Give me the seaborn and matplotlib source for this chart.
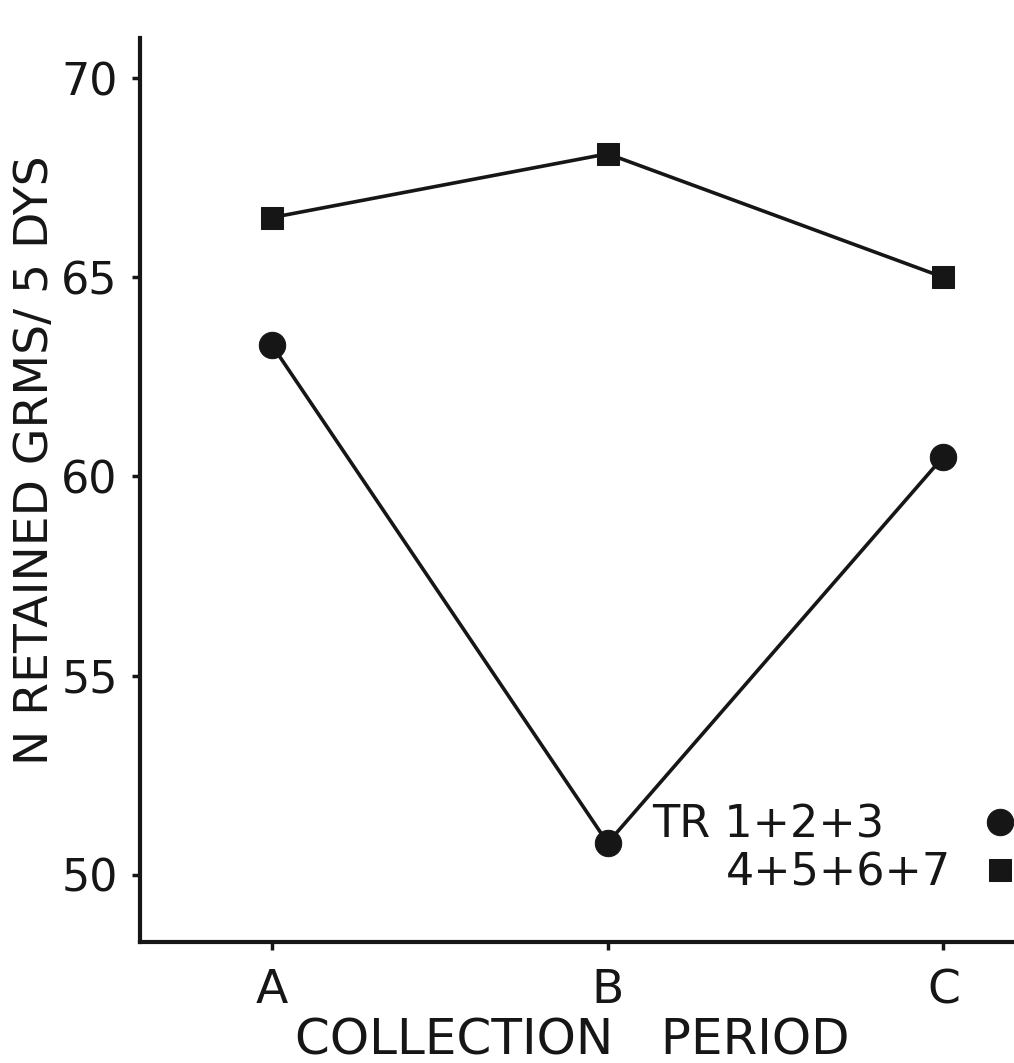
import matplotlib
matplotlib.use("Agg")
import matplotlib.pyplot as plt
import seaborn as sns
import pandas as pd

# Collection periods and the nitrogen retained for each treatment group
periods = ["A", "B", "C"]
group_circle = "TR 1+2+3"
group_square = "4+5+6+7"
values_circle = [63.3, 50.8, 60.5]
values_square = [66.5, 68.1, 65.0]
y_ticks = [50, 55, 60, 65, 70]

df = pd.DataFrame({
    "period": periods * 2,
    "value": values_circle + values_square,
    "group": [group_circle] * 3 + [group_square] * 3,
})

sns.set_theme(style="ticks")
plt.rcParams["font.family"] = ["DejaVu Sans"]

ink = "#161616"
fig = plt.figure(figsize=(10.14, 10.63), dpi=100)
ax = fig.add_axes([0.138, 0.114, 0.862, 0.850])

sns.lineplot(data=df[df["group"] == group_circle], x="period", y="value",
             marker="o", markersize=19, color=ink, linewidth=2.6,
             markeredgecolor=ink, ax=ax, legend=False)
sns.lineplot(data=df[df["group"] == group_square], x="period", y="value",
             marker="s", markersize=16.5, color=ink, linewidth=2.6,
             markeredgecolor=ink, ax=ax, legend=False)

ax.set_xlim(-0.393, 2.21)
ax.set_ylim(48.32, 71.0)
ax.set_yticks(y_ticks)
ax.set_yticklabels([str(v) for v in y_ticks])

for side in ("top", "right"):
    ax.spines[side].set_visible(False)
for side in ("left", "bottom"):
    ax.spines[side].set_linewidth(3.0)
    ax.spines[side].set_color(ink)

ax.tick_params(axis="both", direction="out", length=6, width=2.5, color=ink)
ax.tick_params(axis="y", labelsize=32, pad=10, labelcolor=ink)
ax.tick_params(axis="x", labelsize=34, pad=13, labelcolor=ink)

ax.set_xlabel("COLLECTION   PERIOD", fontsize=36, color=ink)
ax.set_ylabel("N RETAINED GRMS/ 5 DYS", fontsize=34, color=ink)
ax.xaxis.set_label_coords(0.495, -0.0825)
ax.yaxis.set_label_coords(-0.094, 0.533)

handles = [ax.lines[0], ax.lines[1]]
leg = ax.legend(handles, [group_circle, group_square],
                loc="lower right", bbox_to_anchor=(0.999, 0.052),
                frameon=False, markerfirst=False, fontsize=32,
                handlelength=0.6, handletextpad=0.8, labelspacing=0.12,
                borderpad=0, borderaxespad=0)
for line in leg.get_lines():
    line.set_linestyle("none")
texts = leg.get_texts()
for t in texts:
    t.set_color(ink)
# the first entry's label sits further left than the second one
texts[0].set_x(-67)

fig.savefig("out.png", dpi=100, facecolor="white")
